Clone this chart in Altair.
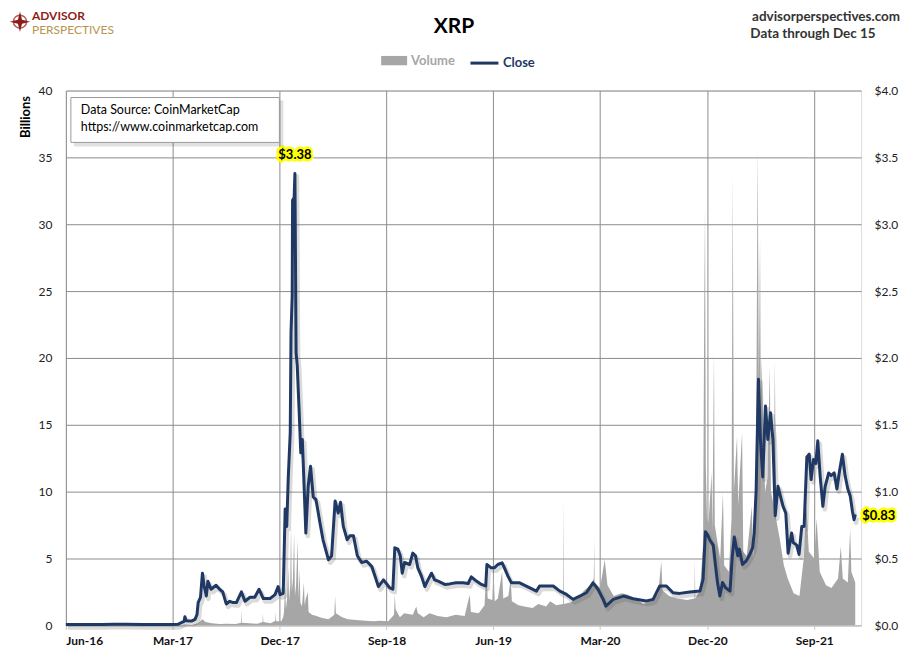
import altair as alt
import pandas as pd

# ---------------- data ----------------
price_dates = [
    "2016-06-01", "2016-07-15", "2016-09-01", "2016-10-01", "2016-11-01", "2016-12-15",
    "2017-02-01", "2017-03-01", "2017-03-15", "2017-03-24", "2017-03-31", "2017-04-02",
    "2017-04-05", "2017-04-20", "2017-04-28", "2017-05-03", "2017-05-06", "2017-05-12",
    "2017-05-17", "2017-05-21", "2017-05-27", "2017-05-31", "2017-06-08", "2017-06-21",
    "2017-06-30", "2017-07-08", "2017-07-17", "2017-07-26", "2017-08-04", "2017-08-12",
    "2017-08-25", "2017-09-03", "2017-09-16", "2017-09-28", "2017-10-09", "2017-10-20",
    "2017-11-06", "2017-11-19", "2017-11-27", "2017-12-02", "2017-12-10", "2017-12-15",
    "2017-12-19", "2017-12-23", "2017-12-28", "2017-12-30", "2018-01-02", "2018-01-03",
    "2018-01-07", "2018-01-09", "2018-01-12", "2018-01-15", "2018-01-20", "2018-01-24",
    "2018-01-28", "2018-01-30", "2018-02-06", "2018-02-12", "2018-02-18", "2018-02-25",
    "2018-03-04", "2018-03-14", "2018-03-22", "2018-04-05", "2018-04-13", "2018-04-22",
    "2018-04-30", "2018-05-06", "2018-05-13", "2018-05-23", "2018-05-30", "2018-06-08",
    "2018-06-18", "2018-06-29", "2018-07-12", "2018-07-25", "2018-08-11", "2018-08-24",
    "2018-09-09", "2018-09-17", "2018-09-22", "2018-09-30", "2018-10-06", "2018-10-11",
    "2018-10-17", "2018-10-30", "2018-11-07", "2018-11-14", "2018-11-20", "2018-11-29",
    "2018-12-08", "2018-12-16", "2018-12-25", "2019-01-02", "2019-01-11", "2019-01-28",
    "2019-02-09", "2019-02-26", "2019-03-16", "2019-03-29", "2019-04-06", "2019-04-19",
    "2019-05-02", "2019-05-13", "2019-05-16", "2019-05-27", "2019-06-04", "2019-06-13",
    "2019-06-24", "2019-06-30", "2019-07-09", "2019-07-18", "2019-08-08", "2019-08-25",
    "2019-09-20", "2019-09-28", "2019-10-16", "2019-11-02", "2019-11-19", "2019-12-06",
    "2019-12-23", "2020-01-09", "2020-01-26", "2020-02-12", "2020-02-25", "2020-03-09",
    "2020-03-16", "2020-04-04", "2020-04-30", "2020-05-25", "2020-06-28", "2020-07-15",
    "2020-08-01", "2020-08-18", "2020-09-04", "2020-09-21", "2020-10-17", "2020-11-12",
    "2020-11-20", "2020-11-26", "2020-12-01", "2020-12-07", "2020-12-16", "2020-12-21",
    "2020-12-27", "2021-01-02", "2021-01-09", "2021-01-17", "2021-01-28", "2021-02-03",
    "2021-02-08", "2021-02-17", "2021-02-21", "2021-03-01", "2021-03-10", "2021-03-18",
    "2021-03-27", "2021-03-31", "2021-04-05", "2021-04-11", "2021-04-16", "2021-04-22",
    "2021-04-29", "2021-05-05", "2021-05-12", "2021-05-18", "2021-05-24", "2021-05-31",
    "2021-06-13", "2021-06-20", "2021-06-26", "2021-07-05", "2021-07-09", "2021-07-18",
    "2021-07-24", "2021-07-31", "2021-08-06", "2021-08-13", "2021-08-19", "2021-08-24",
    "2021-08-30", "2021-09-05", "2021-09-10", "2021-09-16", "2021-09-23", "2021-09-29",
    "2021-10-08", "2021-10-14", "2021-10-22", "2021-10-29", "2021-11-05", "2021-11-12",
    "2021-11-19", "2021-11-26", "2021-12-02", "2021-12-08", "2021-12-12", "2021-12-15",
]
price_close = [
    0.0060, 0.0065, 0.0070, 0.0085, 0.0075, 0.0065,
    0.0063, 0.0060, 0.0080, 0.0200, 0.0300, 0.0650,
    0.0350, 0.0330, 0.0450, 0.0800, 0.1700, 0.2100,
    0.3900, 0.3000, 0.2200, 0.3300, 0.2700, 0.3000,
    0.2700, 0.2500, 0.1600, 0.1800, 0.1700, 0.1700,
    0.2500, 0.1800, 0.2100, 0.2100, 0.2700, 0.2000,
    0.2000, 0.2300, 0.2900, 0.2300, 0.2400, 0.8700,
    0.7400, 1.1100, 1.4400, 2.1900, 2.4600, 3.1800,
    3.2000, 3.3800, 2.0400, 1.9400, 1.5900, 1.2900,
    1.3900, 1.2400, 0.6900, 1.0400, 1.1900, 0.9600,
    0.9400, 0.7700, 0.6400, 0.4900, 0.5200, 0.9300,
    0.8400, 0.9200, 0.7400, 0.6400, 0.6700, 0.6700,
    0.5200, 0.4700, 0.4800, 0.4400, 0.2900, 0.3400,
    0.2800, 0.2700, 0.5800, 0.5700, 0.5200, 0.3900,
    0.4700, 0.4550, 0.5400, 0.5200, 0.4300, 0.3700,
    0.2900, 0.3400, 0.3900, 0.3400, 0.3300, 0.3060,
    0.3100, 0.3180, 0.3180, 0.3130, 0.3630, 0.3310,
    0.3060, 0.2940, 0.4550, 0.4300, 0.4300, 0.4550,
    0.4680, 0.4300, 0.3680, 0.3180, 0.3180, 0.2940,
    0.2560, 0.2940, 0.2940, 0.2940, 0.2560, 0.2310,
    0.1940, 0.2190, 0.2440, 0.3180, 0.2690, 0.1940,
    0.1440, 0.1940, 0.2190, 0.1990, 0.1820, 0.1940,
    0.2940, 0.2940, 0.2440, 0.2390, 0.2490, 0.2560,
    0.3430, 0.7000, 0.6800, 0.6400, 0.6000, 0.4700,
    0.3200, 0.2200, 0.3200, 0.2800, 0.2560, 0.5200,
    0.6600, 0.5200, 0.5700, 0.4550, 0.4800, 0.5200,
    0.5800, 0.6900, 1.0100, 1.8400, 1.3900, 1.1100,
    1.6400, 1.3900, 1.5900, 1.3900, 0.8200, 1.0400,
    0.8900, 0.8400, 0.5400, 0.6900, 0.6200, 0.6000,
    0.5300, 0.7400, 0.7400, 1.2600, 1.2800, 1.0900,
    1.2400, 1.2100, 1.3800, 1.1200, 0.8900, 1.0400,
    1.1400, 1.1200, 1.1400, 1.0200, 1.1600, 1.2800,
    1.1200, 1.0200, 0.9700, 0.8500, 0.7900, 0.8300,
]

volume_dates = [
    "2016-06-01", "2017-03-01", "2017-03-20", "2017-04-02", "2017-04-20", "2017-05-05",
    "2017-05-17", "2017-05-25", "2017-06-10", "2017-07-01", "2017-07-17", "2017-08-10",
    "2017-08-24", "2017-08-25", "2017-08-26", "2017-09-15", "2017-10-05", "2017-10-18",
    "2017-10-19", "2017-10-20", "2017-11-08", "2017-11-20", "2017-11-21", "2017-11-22",
    "2017-12-05", "2017-12-10", "2017-12-12", "2017-12-15", "2017-12-17", "2017-12-20",
    "2017-12-23", "2017-12-25", "2017-12-28", "2017-12-30", "2018-01-01", "2018-01-04",
    "2018-01-07", "2018-01-09", "2018-01-12", "2018-01-16", "2018-01-18", "2018-01-21",
    "2018-01-23", "2018-01-27", "2018-02-01", "2018-02-03", "2018-02-06", "2018-02-11",
    "2018-02-13", "2018-02-22", "2018-03-05", "2018-03-20", "2018-04-05", "2018-04-20",
    "2018-04-22", "2018-04-24", "2018-05-10", "2018-05-25", "2018-06-15", "2018-07-10",
    "2018-07-30", "2018-08-15", "2018-09-05", "2018-09-20", "2018-09-22", "2018-09-24",
    "2018-10-05", "2018-10-16", "2018-11-07", "2018-11-16", "2018-11-20", "2018-12-05",
    "2018-12-20", "2019-01-10", "2019-02-01", "2019-02-25", "2019-03-20", "2019-04-02",
    "2019-04-05", "2019-04-25", "2019-05-10", "2019-05-15", "2019-05-18", "2019-05-30",
    "2019-06-02", "2019-06-05", "2019-06-13", "2019-06-24", "2019-06-27", "2019-07-10",
    "2019-07-16", "2019-07-19", "2019-08-05", "2019-08-20", "2019-09-10", "2019-09-25",
    "2019-10-15", "2019-10-25", "2019-11-10", "2019-11-27", "2019-11-28", "2019-11-29",
    "2019-12-15", "2020-01-05", "2020-01-20", "2020-02-05", "2020-02-14", "2020-02-15",
    "2020-02-16", "2020-03-01", "2020-03-13", "2020-03-20", "2020-04-05", "2020-04-25",
    "2020-05-10", "2020-05-30", "2020-06-20", "2020-07-10", "2020-07-28", "2020-08-05",
    "2020-08-08", "2020-08-25", "2020-09-15", "2020-10-10", "2020-10-29", "2020-10-30",
    "2020-10-31", "2020-11-12", "2020-11-20", "2020-11-23", "2020-11-25", "2020-11-27",
    "2020-11-30", "2020-12-04", "2020-12-12", "2020-12-14", "2020-12-18", "2020-12-20",
    "2020-12-28", "2021-01-03", "2021-01-10", "2021-01-13", "2021-01-25", "2021-02-01",
    "2021-02-04", "2021-02-07", "2021-02-15", "2021-02-18", "2021-02-28", "2021-03-03",
    "2021-03-12", "2021-03-25", "2021-03-28", "2021-04-03", "2021-04-06", "2021-04-09",
    "2021-04-12", "2021-04-15", "2021-04-17", "2021-04-19", "2021-04-23", "2021-04-28",
    "2021-05-04", "2021-05-10", "2021-05-13", "2021-05-20", "2021-05-23", "2021-05-26",
    "2021-06-05", "2021-06-15", "2021-06-25", "2021-07-10", "2021-07-25", "2021-08-05",
    "2021-08-12", "2021-08-18", "2021-09-01", "2021-09-07", "2021-09-15", "2021-10-01",
    "2021-10-15", "2021-11-01", "2021-11-08", "2021-11-13", "2021-11-26", "2021-12-02",
    "2021-12-05", "2021-12-15",
]
volume_billions = [
    0.00, 0.00, 0.01, 0.06, 0.03, 0.15,
    0.45, 0.25, 0.15, 0.10, 0.12, 0.10,
    0.20, 1.20, 0.20, 0.15, 0.12, 0.25,
    0.90, 0.25, 0.15, 0.35, 1.00, 0.30,
    0.30, 0.60, 1.00, 2.90, 1.20, 2.00,
    4.40, 1.80, 3.00, 7.50, 2.50, 3.50,
    6.90, 2.20, 3.00, 6.40, 2.00, 4.20,
    1.70, 1.40, 3.20, 1.50, 2.00, 2.50,
    1.00, 0.80, 0.70, 0.55, 0.45, 0.80,
    2.20, 0.90, 0.60, 0.45, 0.40, 0.35,
    0.30, 0.35, 0.30, 0.80, 2.30, 1.20,
    0.60, 0.90, 0.80, 1.40, 0.90, 0.60,
    0.90, 0.70, 0.60, 0.80, 0.70, 2.30,
    1.00, 0.90, 1.50, 4.40, 2.00, 1.90,
    4.20, 1.80, 2.00, 4.00, 2.00, 2.20,
    3.50, 1.80, 1.50, 1.40, 1.30, 1.60,
    1.40, 1.80, 1.50, 1.60, 9.40, 1.60,
    1.70, 2.00, 2.60, 3.00, 3.50, 6.40,
    3.20, 2.80, 4.90, 3.00, 2.20, 2.40,
    2.30, 2.00, 1.60, 1.80, 2.40, 4.80,
    2.60, 2.20, 2.00, 1.90, 2.00, 4.90,
    2.00, 2.60, 6.00, 23.60, 31.30, 12.00,
    8.00, 7.70, 11.40, 7.00, 20.60, 7.50,
    6.00, 5.00, 9.90, 4.50, 4.00, 8.00,
    33.70, 10.00, 14.10, 9.00, 14.40, 5.50,
    5.20, 8.90, 5.00, 8.00, 19.00, 35.60,
    18.00, 29.00, 16.00, 20.00, 15.00, 10.00,
    11.00, 19.30, 10.00, 9.00, 19.80, 8.00,
    6.40, 4.50, 3.50, 2.40, 2.20, 5.00,
    8.90, 5.50, 5.00, 8.00, 4.00, 3.00,
    2.80, 3.50, 5.90, 3.50, 3.20, 7.20,
    4.00, 3.20,
]

tick_months = [(2016, 6), (2017, 3), (2017, 12), (2018, 9),
               (2019, 6), (2020, 3), (2020, 12), (2021, 9)]

price_df = pd.DataFrame({"date": price_dates, "close": price_close, "series": "Close"})
vol_df = pd.DataFrame({"date": volume_dates, "volume": volume_billions, "series": "Volume"})

peak_i = max(range(len(price_close)), key=lambda i: price_close[i])
last_i = len(price_close) - 1
peak_df = pd.DataFrame({"date": [price_dates[peak_i]], "close": [price_close[peak_i]],
                        "label": ["$%.2f" % price_close[peak_i]]})
last_df = pd.DataFrame({"date": [price_dates[last_i]], "close": [price_close[last_i]],
                        "label": ["$%.2f" % price_close[last_i]]})

# ---------------- styling ----------------
FONT = "Lato"
NAVY = "#1F3864"
GREY = "#A6A6A6"
GRID = "#8C8C8C"

x_scale = alt.Scale(type="utc", domain=[alt.DateTime(year=2016, month=6, date=1, utc=True),
                                        alt.DateTime(year=2021, month=12, date=30, utc=True)])
x_axis = alt.Axis(values=[alt.DateTime(year=y, month=m, date=1, utc=True) for y, m in tick_months],
                  format="%b-%y", title=None, labelFont=FONT, labelFontWeight="bold",
                  labelFontSize=12, labelColor="#111111", grid=True, gridColor=GRID,
                  gridWidth=1, domainColor="#D0D0D0", tickColor="#C8C8C8", tickSize=4,
                  labelPadding=6)
x_enc = alt.X("date:T", scale=x_scale, axis=x_axis)

vol_scale = alt.Scale(domain=[0, 40], nice=False, zero=True)
price_scale = alt.Scale(domain=[0, 4], nice=False, zero=True)

area = alt.Chart(vol_df).mark_area(interpolate="linear", opacity=1).encode(
    x=x_enc,
    y=alt.Y("volume:Q", scale=vol_scale,
            axis=alt.Axis(orient="left", values=list(range(0, 41, 5)), format="d",
                          title="Billions", titleFont=FONT, titleFontWeight="bold",
                          titleFontSize=13, titleColor="#000000", titleAngle=-90,
                          titleAlign="right", titleBaseline="bottom", titleX=-33, titleY=5,
                          labelFont=FONT, labelFontSize=12, labelColor="#222222",
                          ticks=False, domain=False, labelPadding=14,
                          grid=True, gridColor=GRID, gridWidth=1)),
    fill=alt.Fill("series:N", scale=alt.Scale(domain=["Volume"], range=[GREY]),
                  legend=alt.Legend(title=None, orient="none", legendX=316, legendY=-43,
                                    symbolType="M-1,-0.36H1V0.36H-1Z", symbolSize=676,
                                    symbolStrokeWidth=0, labelFont=FONT, labelFontSize=13,
                                    labelFontWeight="bold", labelColor=GREY, labelOffset=4,
                                    padding=0)),
)

shadow = alt.Chart(price_df).mark_line(color="#555555", opacity=0.22, strokeWidth=4.5,
                                       xOffset=2, yOffset=3, strokeJoin="round").encode(
    x=x_enc,
    y=alt.Y("close:Q", scale=price_scale, axis=None),
)

line = alt.Chart(price_df).mark_line(strokeWidth=3, strokeJoin="round").encode(
    x=x_enc,
    y=alt.Y("close:Q", scale=price_scale,
            axis=alt.Axis(orient="right", values=[i / 2 for i in range(9)], format="$.1f",
                          title=None, labelFont=FONT, labelFontSize=12, labelColor="#222222",
                          ticks=False, domain=False, grid=False, labelPadding=13)),
    stroke=alt.Stroke("series:N", scale=alt.Scale(domain=["Close"], range=[NAVY]),
                      legend=alt.Legend(title=None, orient="none", legendX=404, legendY=-43,
                                        symbolType="stroke", symbolSize=784,
                                        symbolStrokeWidth=3, labelFont=FONT, labelFontSize=13,
                                        labelFontWeight="bold", labelColor=NAVY, labelOffset=3,
                                        padding=0)),
)


def value_label(df, dx, dy, align):
    base = alt.Chart(df).encode(
        x=x_enc,
        y=alt.Y("close:Q", scale=price_scale, axis=None),
        text="label:N",
    )
    glow = base.mark_text(font=FONT, fontSize=13, fontWeight="bold", dx=dx, dy=dy,
                          align=align, baseline="middle", color="#FFFF00",
                          stroke="#FFFF00", strokeWidth=5, strokeJoin="round")
    txt = base.mark_text(font=FONT, fontSize=13, fontWeight="bold", dx=dx, dy=dy,
                         align=align, baseline="middle", color="#000000")
    return glow + txt


peak_label = value_label(peak_df, 0, -18, "center")
last_label = value_label(last_df, 7, 2, "left")


def note(text, x, y, size, color, weight="normal", align="left", baseline="middle"):
    return alt.Chart(pd.DataFrame({"t": [text]})).mark_text(
        font=FONT, fontSize=size, fontWeight=weight, color=color, align=align,
        baseline=baseline).encode(text="t:N", x=alt.value(x), y=alt.value(y))


one = pd.DataFrame({"k": [0]})
box_shadow = alt.Chart(one).mark_rect(color="#000000", opacity=0.12).encode(
    x=alt.value(8), x2=alt.value(218), y=alt.value(10), y2=alt.value(56))
box = alt.Chart(one).mark_rect(fill="white", stroke="#9A9A9A", strokeWidth=1).encode(
    x=alt.value(5), x2=alt.value(214), y=alt.value(7), y2=alt.value(52))

compass_ring = alt.Chart(one).mark_point(shape="circle", size=170, filled=False,
                                         color="#8C1D18", strokeWidth=1.5).encode(
    x=alt.value(-46), y=alt.value(-69))
compass_star = alt.Chart(one).mark_point(
    shape="M0,-1L0.2,-0.2L1,0L0.2,0.2L0,1L-0.2,0.2L-1,0L-0.2,-0.2Z",
    size=420, filled=True, color="#8C1D18", opacity=1).encode(
    x=alt.value(-46), y=alt.value(-69))

annotations = [
    box_shadow, box,
    note("Data Source: CoinMarketCap", 15, 20, 12.5, "#000000"),
    note("https://www.coinmarketcap.com", 15, 37, 12.5, "#000000"),
    note("XRP", 389, -64, 21, "#000000", "bold", "center"),
    compass_ring, compass_star,
    note("ADVISOR", -34, -68, 12, "#8C1D18", "bold", baseline="bottom"),
    note("PERSPECTIVES", -34, -66, 12, "#B8944E", baseline="top"),
    note("advisorperspectives.com", 836, -74, 13.5, "#333333", "bold", "right"),
    note("Data through Dec 15", 686, -57, 13.5, "#333333", "bold"),
]

chart = alt.layer(area, shadow, line, peak_label, last_label, *annotations).resolve_scale(
    y="independent", fill="independent", stroke="independent"
).properties(
    width=797, height=536,
    padding={"left": 58, "top": 82, "right": 41, "bottom": 27},
    autosize=alt.AutoSizeParams(type="none"),
).configure_view(stroke=None).configure(background="white")

chart.save("out.html", embed_options={"renderer": "svg", "actions": False})
